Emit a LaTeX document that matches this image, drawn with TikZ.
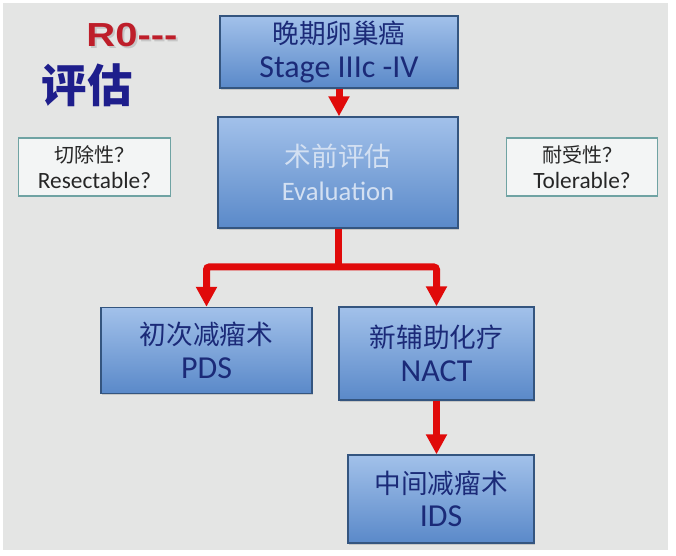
\documentclass[tikz,border=0pt]{standalone}
\usepackage{fontspec}
\setmainfont{Carlito}
\newfontfamily\cjk{Noto Sans CJK SC}
\newfontfamily\arialb{Liberation Sans}
\usetikzlibrary{arrows.meta,shadows}
\definecolor{bg}{HTML}{E4E5E4}
\definecolor{boxtop}{HTML}{A2C1EA}
\definecolor{boxbot}{HTML}{5A89C9}
\definecolor{boxedge}{HTML}{34557F}
\definecolor{navy}{HTML}{1B2A78}
\definecolor{arrowred}{HTML}{E00A0A}
\definecolor{qedge}{HTML}{6FA3A3}
\definecolor{qfill}{HTML}{F3F5F5}
\definecolor{rzero}{HTML}{BE1E2A}
\definecolor{evaltext}{HTML}{D3E0F2}
\definecolor{titleblue}{HTML}{1E1E8C}
\tikzset{
  bluebox/.style={draw=boxedge, line width=1pt, top color=boxtop, bottom color=boxbot,
    align=center, text=navy, inner sep=0pt, font=\fontsize{24}{25}\selectfont,
    drop shadow={shadow xshift=1pt, shadow yshift=-1.5pt, opacity=.3}},
  qbox/.style={draw=qedge, line width=1.1pt, fill=qfill, align=center, text=black!85,
    inner sep=0pt, font=\fontsize{17.5}{19}\selectfont},
  redline/.style={draw=arrowred, line width=5.25pt},
  redarrow/.style={redline, -{Triangle[width=15pt,length=15pt]}},
}
\newcommand{\zh}[1]{{\cjk\fontsize{20}{20}\selectfont #1}}
\newcommand{\zhs}[1]{{\cjk\fontsize{15}{15}\selectfont #1}}
\begin{document}
\begin{tikzpicture}[x=0.75pt,y=-0.75pt]
\useasboundingbox (0,0) rectangle (676,556);
\fill[white] (0,0) rectangle (676,556);
\fill[bg] (3,3) rectangle (668,550);

% title texts
\node[text=black!30, opacity=.6] (r0s) at (134,37) {\arialb\bfseries\fontsize{25}{25}\selectfont\scalebox{1.2}[1]{R0---}};
\node[text=rzero] (r0) at (132,35) {\arialb\bfseries\fontsize{25}{25}\selectfont\scalebox{1.2}[1]{R0---}};
\node[text=titleblue] (pg) at (87,85) {\cjk\bfseries\fontsize{34}{34}\selectfont 评估};

% boxes
\node[bluebox, minimum width=178.5pt, minimum height=54pt] (top) at (339,52)
  {\zh{晚期卵巢癌}\\Stage IIIc -IV};
\node[bluebox, minimum width=180pt, minimum height=83.25pt, text=evaltext,
  font=\fontsize{20}{25.5}\selectfont] (eval) at (338,172.5)
  {{\cjk 术前评估}\\Evaluation};
\node[qbox, minimum width=114pt, minimum height=43.5pt] (left) at (94.5,167)
  {\zhs{切除性？}\\Resectable?};
\node[qbox, minimum width=113.25pt, minimum height=43.5pt] (right) at (582,167)
  {\zhs{耐受性？}\\Tolerable?};
\node[bluebox, minimum width=158.25pt, minimum height=64.5pt] (pds) at (206.5,350.5)
  {\zh{初次减瘤术}\\PDS};
\node[bluebox, minimum width=146.25pt, minimum height=69.75pt] (nact) at (436.5,353.5)
  {\zh{新辅助化疗}\\NACT};
\node[bluebox, minimum width=139.5pt, minimum height=66pt] (ids) at (441,499)
  {\zh{中间减瘤术}\\IDS};

% connectors
\coordinate (j) at (338,267);
\draw[redarrow] (top.south) -- (top.south |- eval.north);
\draw[redline] (eval.south) -- ([yshift=-2.6pt]j);
\draw[redarrow, rounded corners=2pt] (j) -| (nact.north);
\draw[redarrow, rounded corners=2pt] (j) -| (pds.north);
\draw[redarrow] (nact.south) -- (nact.south |- ids.north);
\end{tikzpicture}
\end{document}
